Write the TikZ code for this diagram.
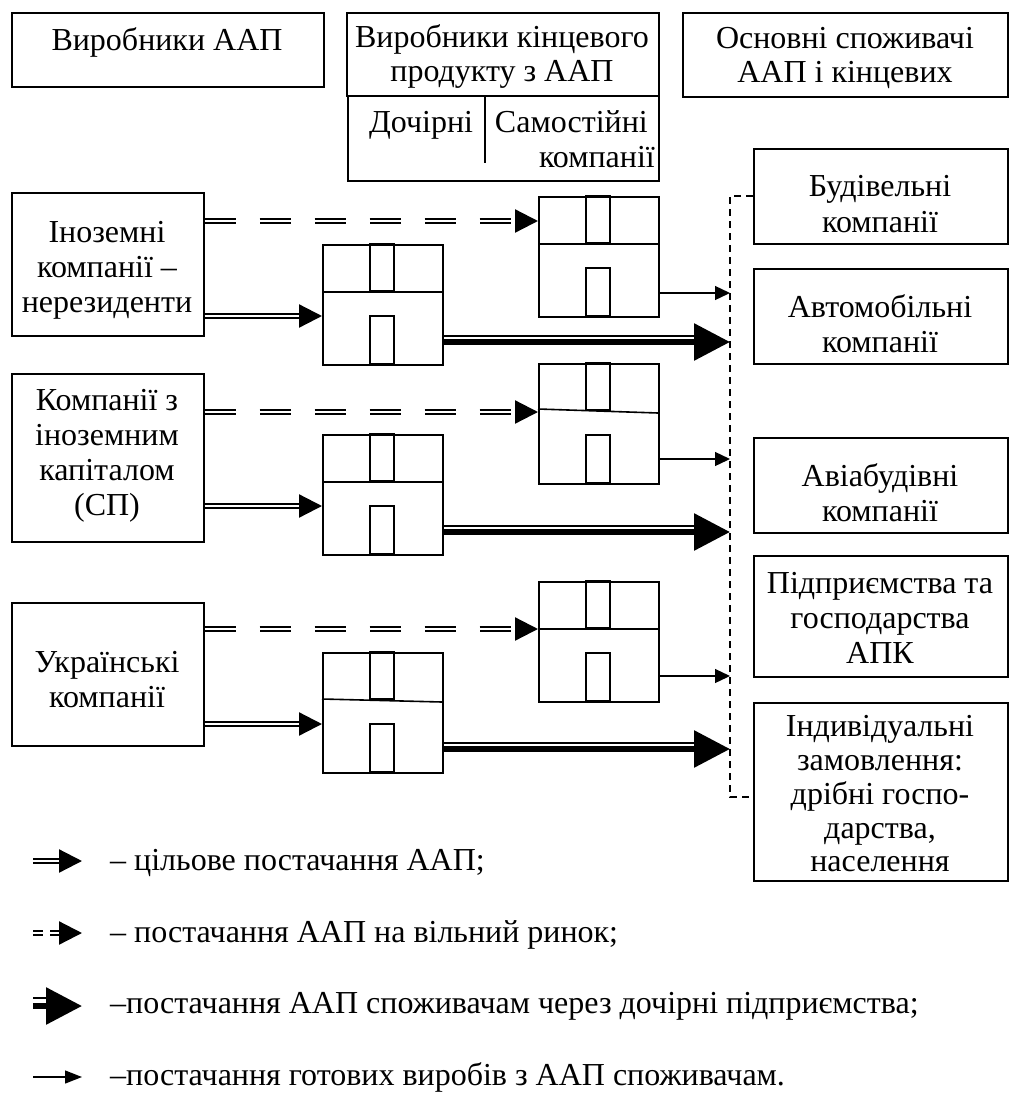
\documentclass[tikz,border=0pt]{standalone}
\usepackage{fontspec}
\setmainfont{Liberation Serif}
\usetikzlibrary{arrows.meta}
\begin{document}
\begin{tikzpicture}[x=1pt,y=-1pt,
  box/.style={draw, line width=1.6pt, rectangle, anchor=north west, inner sep=0pt},
  txt/.style={font=\fontsize{32}{35}\selectfont, inner sep=0pt, anchor=base},
  bl/.style={line width=1.6pt},
  dbl/.style={double, line width=2.3pt, double distance=2pt, -{Triangle[length=23pt,width=23pt]}},
  ddash/.style={dbl, dash pattern=on 31pt off 24pt},
  thinarrow/.style={line width=1.3pt, -{Triangle[length=15pt,width=14pt]}},
  thickarrow/.style={line width=6pt, -{Triangle[length=36pt,width=36pt]}},
  thinrail/.style={line width=2pt},
  vdash/.style={line width=1.2pt, dash pattern=on 7pt off 5pt},
]
\useasboundingbox (0,0) rectangle (1012,1098);

% header boxes
\node[box, minimum width=312pt, minimum height=74pt] (top1) at (11,12) {};
\node[box, minimum width=312pt, minimum height=83pt] (top2) at (346,12) {};
\node[box, minimum width=311pt, minimum height=85pt] (sub) at (347,95) {};
\node[box, minimum width=325pt, minimum height=84pt] (top3) at (682,12) {};
\draw[bl] ([xshift=138pt]sub.north west) -- ++(0,68);

% producers
\node[box, minimum width=192pt, minimum height=143pt] (L1) at (11,192) {};
\node[box, minimum width=192pt, minimum height=168pt] (L2) at (11,373) {};
\node[box, minimum width=192pt, minimum height=143pt] (L3) at (11,602) {};

% consumers
\node[box, minimum width=254pt, minimum height=95pt] (R1) at (753,148) {};
\node[box, minimum width=254pt, minimum height=95pt] (R2) at (753,268) {};
\node[box, minimum width=254pt, minimum height=95pt] (R3) at (753,437) {};
\node[box, minimum width=254pt, minimum height=121pt] (R4) at (753,555) {};
\node[box, minimum width=254pt, minimum height=178pt] (R5) at (753,702) {};

% buildings
\foreach \n/\x/\y/\sa/\sb in {B1/538/196/48/48, B2/322/244/48/48, B3/538/363/46/50, B4/322/434/48/48, B5/538/581/48/48, B6/322/652/47/50}{
  \node[box, minimum width=120pt, minimum height=120pt] (\n) at (\x,\y) {};
  \draw[bl] (\x,\y+\sa) -- (\x+120,\y+\sb);
  \draw[bl] (\x+48,\y) rectangle (\x+72,\y+47);
  \draw[bl] (\x+48,\y+72) rectangle (\x+72,\y+120);
}

% collector dashed line
\coordinate (vt) at (730,196);
\coordinate (vb) at (730,797);
\draw[vdash] (R1.west |- vt) -- (vt) -- (vb) -- (R5.west |- vb);

% flows
\foreach \r/\yd/\yb/\yt/\yk/\L/\Bu/\Bl in {1/221/316/293/340/L1/B1/B2, 2/412/506/459/530/L2/B3/B4, 3/629/724/676/747/L3/B5/B6}{
  \coordinate (d\r) at (0,\yd);
  \coordinate (b\r) at (0,\yb);
  \coordinate (t\r) at (0,\yt);
  \coordinate (k\r) at (0,\yk+2);
  \coordinate (kr\r) at (0,\yk-4);
  \draw[ddash] (\L.east |- d\r) -- (\Bu.west |- d\r);
  \draw[dbl] (\L.east |- b\r) -- (\Bl.west |- b\r);
  \draw[thinarrow] (\Bu.east |- t\r) -- (vt |- t\r);
  \draw[thinrail] (\Bl.east |- kr\r) -- ([xshift=-30pt]vt |- kr\r);
  \draw[thickarrow] (\Bl.east |- k\r) -- (vt |- k\r);
}

% texts in boxes
\node[txt] (tx1) at (167,50) {Виробники ААП};
\node[txt] (tx2a) at (502,47) {Виробники кінцевого};
\node[txt] (tx2b) at (502,81) {продукту з ААП};
\node[txt] (tx3a) at (845,48) {Основні споживачі};
\node[txt] (tx3b) at (845,82) {ААП і кінцевих};
\node[txt] (txs1) at (421,132) {Дочірні};
\node[txt, anchor=base east] (txs2) at (648,132) {Самостійні};
\node[txt, anchor=base east] (txs3) at (655,167) {компанії};

\node[txt] (l1a) at (107,242) {Іноземні};
\node[txt] (l1b) at (107,277) {компанії –};
\node[txt] (l1c) at (107,312) {нерезиденти};
\node[txt] (l2a) at (107,410) {Компанії з};
\node[txt] (l2b) at (107,445) {іноземним};
\node[txt] (l2c) at (107,480) {капіталом};
\node[txt] (l2d) at (107,515) {(СП)};
\node[txt] (l3a) at (107,672) {Українські};
\node[txt] (l3b) at (107,707) {компанії};

\node[txt] (r1a) at (880,196) {Будівельні};
\node[txt] (r1b) at (880,232) {компанії};
\node[txt] (r2a) at (880,317) {Автомобільні};
\node[txt] (r2b) at (880,352) {компанії};
\node[txt] (r3a) at (880,486) {Авіабудівні};
\node[txt] (r3b) at (880,521) {компанії};
\node[txt] (r4a) at (880,593) {Підприємства та};
\node[txt] (r4b) at (880,628) {господарства};
\node[txt] (r4c) at (880,663) {АПК};
\node[txt] (r5a) at (880,736) {Індивідуальні};
\node[txt] (r5b) at (880,770) {замовлення:};
\node[txt] (r5c) at (880,804) {дрібні госпо-};
\node[txt] (r5d) at (880,838) {дарства,};
\node[txt] (r5e) at (880,871) {населення};

% legend
\coordinate (g1a) at (33,861); \coordinate (g1b) at (82,861);
\draw[dbl] (g1a) -- (g1b);
\node[txt, anchor=base west] (g1t) at (110,870) {– цільове постачання ААП;};
\coordinate (g2a) at (33,933); \coordinate (g2b) at (82,933);
\draw[dbl, dash pattern=on 10pt off 7pt] (g2a) -- (g2b);
\node[txt, anchor=base west] (g2t) at (110,942) {– постачання ААП на вільний ринок;};
\coordinate (g3a) at (33,1006); \coordinate (g3b) at (82,1006);
\coordinate (g3c) at (33,998); \coordinate (g3d) at (52,998);
\draw[thinrail] (g3c) -- (g3d);
\draw[thickarrow] (g3a) -- (g3b);
\node[txt, anchor=base west] (g3t) at (110,1013) {–постачання ААП споживачам через дочірні підприємства;};
\coordinate (g4a) at (33,1077); \coordinate (g4b) at (82,1077);
\draw[line width=1.3pt, -{Triangle[length=17pt,width=13pt]}] (g4a) -- (g4b);
\node[txt, anchor=base west] (g4t) at (110,1085) {–постачання готових виробів з ААП споживачам.};
\end{tikzpicture}
\end{document}
